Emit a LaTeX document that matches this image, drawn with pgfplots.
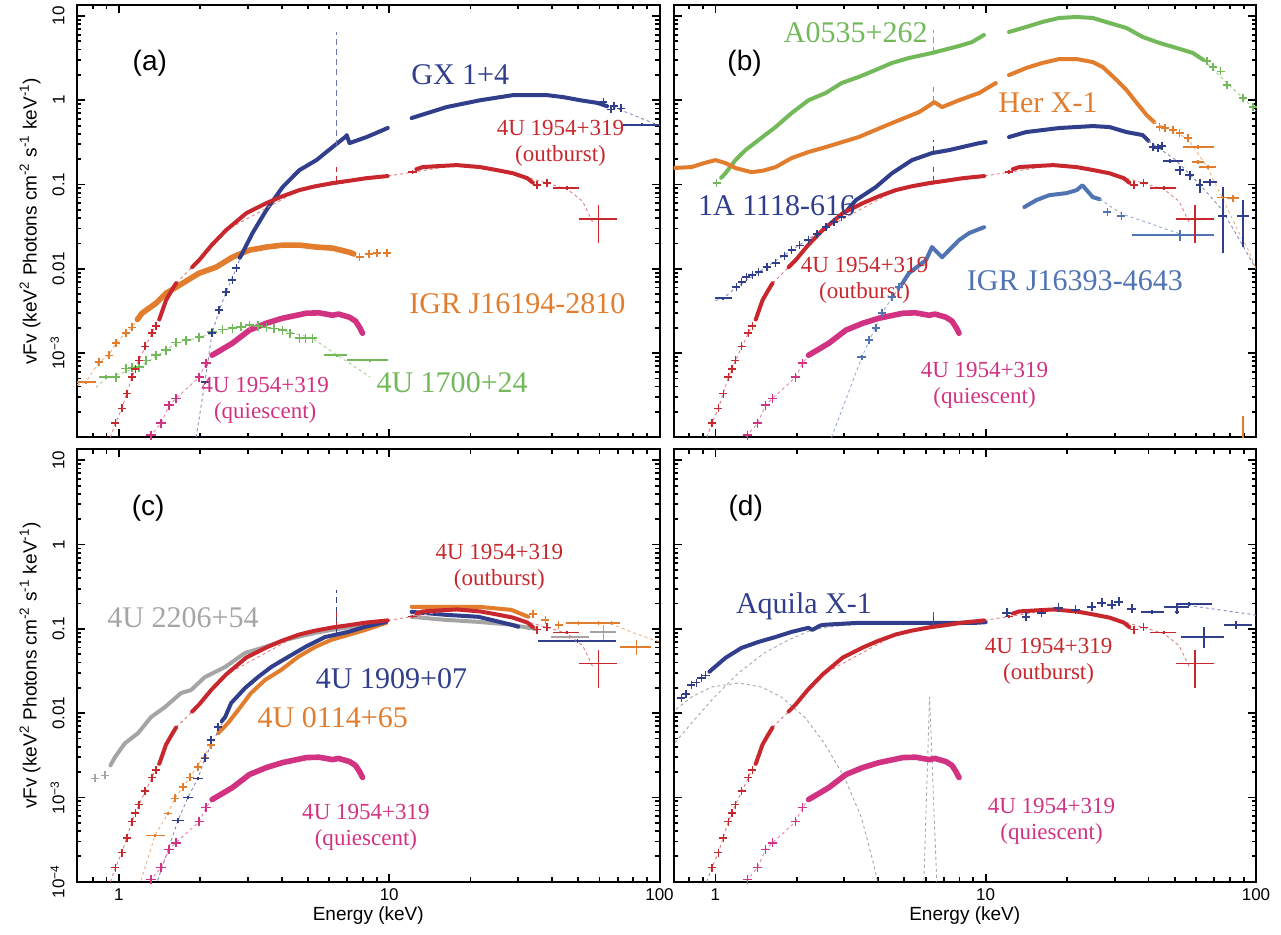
\documentclass[border=0pt]{standalone}
\usepackage{fontspec}
\setmainfont{Liberation Sans}
\newfontfamily\tms{Liberation Serif}
\usepackage{pgfplots}
\pgfplotsset{compat=1.18}
\usepgfplotslibrary{groupplots}
\definecolor{cred}{RGB}{200,40,45}
\definecolor{cnavy}{RGB}{48,62,140}
\definecolor{corange}{RGB}{225,125,45}
\definecolor{cgreen}{RGB}{115,185,90}
\definecolor{cmag}{RGB}{210,50,130}
\definecolor{cblue}{RGB}{80,115,180}
\definecolor{cgray}{RGB}{165,165,165}
\pgfplotsset{
  dense/.style={no marks, line width=2pt, line join=round, line cap=round},
  tdense/.style={no marks, line width=2.8pt, line join=round, line cap=round},
  crs/.style={only marks, mark=+, mark size=2pt, mark options={line width=0.8pt, solid}},
  model/.style={no marks, line width=0.45pt, dash pattern=on 1.5pt off 1.5pt},
  spike/.style={no marks, line width=0.5pt, densely dashed},
  eb/.style={only marks, mark=+, mark size=0.6pt, color=#1, error bars/.cd, x dir=both, y dir=both, x explicit relative, y explicit relative, error mark=none, error bar style={line width=0.85pt, solid}},
}
\tikzset{
  lab/.style={font=\tms\fontsize{15}{18}\selectfont, text=#1, anchor=center},
  slab/.style={font=\tms\fontsize{11.5}{13}\selectfont, text=#1, align=center, anchor=center},
  plab/.style={font=\fontsize{14}{16}\selectfont, anchor=center},
}
\newcommand\UBout{%
\addplot[model, cred!60] coordinates {(0.93,1e-4)(0.97,1.47e-4)(1.026,2.21e-4)(1.117,5.16e-4)(1.186,8.2e-4)(1.325,1.72e-3)(1.494,4.24e-3)(1.627,6.75e-3)(1.866,0.01045)(2.49,0.0287)(4.65,0.0858)(9.87,0.126)(12.2,0.14)(17.8,0.17)(28.7,0.136)(40,0.1)(45.6,0.088)(52,0.063)(57,0.034)};
\addplot[crs, cred] coordinates {(0.97,1.47e-4)(1.026,2.21e-4)(1.07,3.3e-4)(1.117,5.16e-4)(1.15,6.5e-4)(1.186,8.2e-4)(1.25,1.2e-3)(1.325,1.72e-3)(1.37,2.1e-3)};
\addplot[dense, cred] coordinates {(1.41,2.5e-3)(1.494,4.24e-3)(1.56,5.4e-3)(1.627,6.75e-3)};
\addplot[dense, cred] coordinates {(1.866,0.01045)(1.98,0.01265)(2.2,0.019)(2.49,0.0287)(2.96,0.0457)(3.51,0.0601)(4.0,0.072)(4.65,0.0858)(5.3,0.095)(6.17,0.104)(7.0,0.11)(8.25,0.119)(9.87,0.126)};
\addplot[spike, cred] coordinates {(6.4,0.106)(6.4,0.16)};
\addplot[dense, cred] coordinates {(12.6,0.152)(13.3,0.161)(15,0.165)(17.8,0.17)(21.7,0.161)(25.1,0.148)(28.7,0.136)(32.4,0.119)(34,0.105)};
\addplot[crs, cred] coordinates {(35.3,0.098)(38.4,0.104)};
\addplot[eb=cred] coordinates {(12.2,0.14) +- (0.035,0.05) (45.6,0.0906) += (0.107,0.05) -= (0.114,0.05) (59.4,0.0388) += (0.175,0.467) -= (0.15,0.482)};
}
\newcommand\UBqui{%
\addplot[model, cmag!60] coordinates {(1.25,7.5e-5)(1.314,1.06e-4)(1.432,1.47e-4)(1.533,2.4e-4)(1.627,2.9e-4)(1.98,5.16e-4)(2.1,7.57e-4)(2.21,9.42e-4)};
\addplot[crs, cmag, mark size=2.3pt] coordinates {(1.314,1.06e-4)(1.432,1.47e-4)(1.533,2.4e-4)(1.627,2.9e-4)(1.98,5.16e-4)(2.1,7.57e-4)};
\addplot[tdense, cmag] coordinates {(2.21,9.42e-4)(2.4,1.1e-3)(2.63,1.31e-3)(3.04,1.87e-3)(3.51,2.26e-3)(4.03,2.59e-3)(4.94,2.97e-3)(5.5,3.0e-3)(6.17,2.81e-3)(6.5,2.9e-3)(7.13,2.66e-3)(7.5,2.4e-3)(7.77,2.02e-3)(7.97,1.72e-3)};
}
\begin{document}
\begin{tikzpicture}
\begin{groupplot}[
  group style={group size=2 by 2, horizontal sep=7pt, vertical sep=6pt},
  xmode=log, ymode=log, xmin=0.7, xmax=100, ymin=1e-4, ymax=13.5,
  scale only axis, width=291pt, height=216pt,
  axis line style={line width=1pt},
  every tick/.style={black, line width=0.9pt},
  major tick length=4pt, minor tick length=2.2pt,
  tick align=inside,
  xtick={1,10,100},
  minor xtick={0.8,0.9,2,3,4,5,6,7,8,9,20,30,40,50,60,70,80,90},
  ytick={1e-4,1e-3,0.01,0.1,1,10},
  minor ytick={2e-4,3e-4,4e-4,5e-4,6e-4,7e-4,8e-4,9e-4,2e-3,3e-3,4e-3,5e-3,6e-3,7e-3,8e-3,9e-3,0.02,0.03,0.04,0.05,0.06,0.07,0.08,0.09,0.2,0.3,0.4,0.5,0.6,0.7,0.8,0.9,2,3,4,5,6,7,8,9},
  tick label style={font=\fontsize{8.5}{10}\selectfont},
  yticklabel style={rotate=90, anchor=south, inner sep=0pt},
  yticklabel shift=6pt,
  every axis y label/.style={at={(rel axis cs:0,0.5)}, xshift=-23.5pt, rotate=90, anchor=center, font=\fontsize{9.5}{11}\selectfont},
  every axis x label/.style={at={(rel axis cs:0.5,0)}, yshift=-17pt, anchor=center, font=\fontsize{9.5}{11}\selectfont},
]
% ---------------- (a)
\nextgroupplot[xticklabels={}, yticklabels={,10\textsuperscript{\textminus3},0.01,0.1,1,10},
  ylabel={vFv (keV\textsuperscript{2} Photons cm\textsuperscript{-2} s\textsuperscript{-1} keV\textsuperscript{-1})}]
% IGR J16194-2810
\addplot[model, corange!60] coordinates {(0.7,4.2e-4)(0.754,4.5e-4)(0.843,7.8e-4)(0.918,9.4e-4)(0.974,1.31e-3)(1.06,1.72e-3)(1.117,2.02e-3)(1.217,2.97e-3)};
\addplot[eb=corange] coordinates {(0.754,4.5e-4) += (0.09,0.04) -= (0.07,0.04)};
\addplot[crs, corange] coordinates {(0.843,7.8e-4)(0.918,9.4e-4)(0.974,1.31e-3)(1.06,1.72e-3)(1.117,2.02e-3)};
\addplot[tdense, corange] coordinates {(1.17,2.5e-3)(1.217,2.97e-3)(1.371,3.9e-3)(1.494,5.13e-3)(1.627,6.04e-3)(1.98,8.87e-3)(2.29,0.01045)(2.63,0.01374)(3.04,0.01665)(3.51,0.0181)(4.03,0.0191)(4.65,0.0191)(5.38,0.0181)(6.17,0.0176)(7.13,0.0157)(7.4,0.015)};
\addplot[crs, corange] coordinates {(7.77,0.0137)(8.4,0.015)(8.99,0.0153)(9.79,0.0153)};
% 4U 1700+24
\addplot[model, cgreen!70] coordinates {(0.822,3.9e-4)(0.895,5.0e-4)(1.186,6.8e-4)(1.627,1.3e-3)(2.63,1.97e-3)(3.04,2.1e-3)(4.03,1.87e-3)(5.2,1.5e-3)(6.4,9.5e-4)(8.5,5.2e-4)};
\addplot[crs, cgreen, mark size=2.3pt] coordinates {(0.974,5.16e-4)(1.06,6.59e-4)(1.12,6.7e-4)(1.186,6.78e-4)(1.259,8.2e-4)(1.371,9.42e-4)(1.494,1.08e-3)(1.627,1.34e-3)(1.773,1.42e-3)(1.98,1.54e-3)(2.21,1.77e-3)(2.42,1.9e-3)(2.63,1.97e-3)(2.83,2.05e-3)(3.04,2.14e-3)(3.27,2.1e-3)(3.51,2.02e-3)(3.75,1.95e-3)(4.03,1.87e-3)(4.3,1.7e-3)(4.65,1.5e-3)(4.9,1.5e-3)(5.2,1.5e-3)};
\addplot[eb=cgreen] coordinates {(0.895,5.16e-4) +- (0.06,0.05) (6.39,9.4e-4) += (0.095,0.05) -= (0.099,0.05) (8.47,8.2e-4) += (0.165,0.05) -= (0.174,0.05)};
% GX 1+4
\addplot[model, cnavy!60] coordinates {(1.93,1e-4)(2.08,4.5e-4)(2.21,1.72e-3)(2.35,3.22e-3)(2.49,5.27e-3)(2.72,0.0102)(2.86,0.0153)};
\addplot[eb=cnavy] coordinates {(2.08,4.5e-4) +- (0.035,0.05)};
\addplot[crs, cnavy] coordinates {(2.21,1.72e-3)(2.35,3.22e-3)(2.49,5.27e-3)(2.63,7.32e-3)(2.72,0.0102)};
\addplot[dense, cnavy] coordinates {(2.8,0.0135)(2.86,0.0153)(3.12,0.0265)(3.51,0.0497)(4.03,0.0931)(4.65,0.148)(5.38,0.195)(6.17,0.278)(6.9,0.37)(6.96,0.386)(7.13,0.31)(8.25,0.366)(9.87,0.468)};
\addplot[spike, cnavy!70] coordinates {(6.4,0.29)(6.4,6.5)};
\addplot[dense, cnavy] coordinates {(12.1,0.615)(16.3,0.83)(21.7,1.0)(28.7,1.15)(38.4,1.15)(44,1.09)(50.9,1.0)(58.9,0.93)(64,0.85)};
\addplot[crs, cnavy] coordinates {(62,0.95)(66,0.78)(68,0.86)(72,0.8)};
\addplot[model, cnavy!60] coordinates {(67.5,0.83)(100,0.5)};
\addplot[eb=cnavy] coordinates {(86,0.51) += (0.2,0.04) -= (0.15,0.04)};
\UBout
\UBqui
\node[plab] at (rel axis cs:0.125,0.866) {(a)};
\node[lab=cnavy] at (rel axis cs:0.658,0.838) {GX 1+4};
\node[slab=cred] at (rel axis cs:0.830,0.681) {4U 1954+319\\(outburst)};
\node[lab=corange] at (rel axis cs:0.756,0.310) {IGR J16194-2810};
\node[lab=cgreen] at (rel axis cs:0.644,0.127) {4U 1700+24};
\node[slab=cmag] at (rel axis cs:0.323,0.086) {4U 1954+319\\(quiescent)};
% ---------------- (b)
\nextgroupplot[xticklabels={}, yticklabels={}]
% A0535+262
\addplot[crs, cgreen] coordinates {(1.01,0.104)};
\addplot[dense, cgreen] coordinates {(1.05,0.12)(1.089,0.136)(1.186,0.195)(1.292,0.256)(1.444,0.337)(1.67,0.481)(1.914,0.705)(2.21,1.0)(2.56,1.22)(2.93,1.6)(3.39,1.89)(3.92,2.29)(4.5,2.77)(5.2,3.17)(6.33,3.64)(7.97,4.4)(8.9,4.9)(9.85,5.95)};
\addplot[spike, cgreen] coordinates {(6.4,3.6)(6.4,6.8)};
\addplot[dense, cgreen] coordinates {(12.2,6.46)(14.1,7.4)(16.2,8.49)(18.7,9.47)(21.7,9.73)(24.9,9.47)(28.7,8.26)(33.2,7.2)(38.1,5.63)(44,4.78)(50.9,4.17)(58.4,3.64)(64,3.0)};
\addplot[crs, cgreen] coordinates {(66,2.9)(69.3,2.48)(74,2.2)(78,1.51)(89.5,1.07)(97.5,0.83)};
\addplot[model, cgreen!70] coordinates {(64,3.0)(78,1.6)(90,1.05)(100,0.75)};
% Her X-1
\addplot[dense, corange] coordinates {(0.699,0.157)(0.815,0.161)(0.9,0.178)(1.0,0.195)(1.089,0.18)(1.186,0.157)(1.36,0.14)(1.5,0.146)(1.67,0.161)(1.914,0.206)(2.21,0.243)(2.56,0.278)(3.39,0.366)(4.5,0.536)(5.67,0.724)(6.2,0.87)(6.45,0.95)(6.9,0.83)(7.97,1.0)(9.46,1.22)(10.9,1.6)};
\addplot[spike, corange] coordinates {(6.4,0.95)(6.4,1.43)};
\addplot[dense, corange] coordinates {(12.2,1.99)(14.1,2.41)(16.2,2.77)(18.7,3.08)(21.7,3.08)(24.9,2.84)(27.1,2.48)(30.5,1.74)(33.2,1.32)(36.2,0.93)(39.4,0.667)(42,0.55)};
\addplot[crs, corange] coordinates {(44,0.481)(46,0.47)(49.2,0.443)(52.2,0.408)(56,0.356)};
\addplot[model, corange!60] coordinates {(42,0.55)(56,0.35)(66,0.16)(75,0.07)(85,0.03)(93,0.0175)(100,0.01)};
\addplot[eb=corange] coordinates {(61,0.278) += (0.15,0.05) -= (0.12,0.05) (61,0.185) +- (0.05,0.06) (66.4,0.161) +- (0.07,0.06) (75.4,0.07) += (0.05,0.25) -= (0.05,0.22) (82.2,0.069) +- (0.05,0.1) (89.5,1.2e-4) +- (0.0,0.5)};
% 1A 1118-616
\addplot[model, cnavy!60] coordinates {(1.0,4.2e-3)(1.07,4.48e-3)(1.196,6.04e-3)(1.444,9.12e-3)(1.914,0.0166)(2.93,0.041)(3.31,0.0653)};
\addplot[eb=cnavy] coordinates {(1.07,4.48e-3) += (0.075,0.04) -= (0.065,0.04)};
\addplot[crs, cnavy] coordinates {(1.196,6.04e-3)(1.25,7e-3)(1.303,7.94e-3)(1.37,8.5e-3)(1.444,9.12e-3)(1.55,1.05e-2)(1.67,0.0117)(1.8,0.0143)(1.914,0.0166)(2.05,0.019)(2.21,0.0219)(2.38,0.026)(2.56,0.0312)(2.74,0.036)(2.93,0.041)};
\addplot[dense, cnavy] coordinates {(3.05,0.048)(3.31,0.0653)(3.92,0.0931)(4.5,0.136)(5.34,0.195)(6.33,0.236)(7.32,0.256)(9.46,0.31)(10,0.319)};
\addplot[spike, cnavy] coordinates {(6.4,0.24)(6.4,0.34)};
\addplot[dense, cnavy] coordinates {(12.2,0.366)(14.1,0.419)(18.7,0.468)(24.9,0.494)(28.7,0.481)(33.2,0.419)(38.1,0.386)(40,0.33)};
\addplot[crs, cnavy] coordinates {(41.5,0.278)(43.5,0.27)(45,0.285)};
\addplot[model, cnavy!60] coordinates {(40,0.33)(50,0.2)(62,0.1)(75,0.05)(85,0.025)(100,0.01)};
\addplot[eb=cnavy] coordinates {(48,0.19) += (0.117,0.05) -= (0.058,0.05) (52.2,0.148) +- (0.04,0.12) (56.9,0.129) +- (0.04,0.12) (62,0.098) +- (0.03,0.2) (67.5,0.107) +- (0.06,0.1) (75.4,0.042) += (0.04,1.2) -= (0.04,0.63) (89.5,0.042) +- (0.05,0.57)};
% IGR J16393-4643
\addplot[model, cblue!60] coordinates {(2.69,1e-4)(3.48,8.9e-4)(4.13,2.97e-3)(4.78,6.04e-3)};
\addplot[eb=cblue] coordinates {(3.48,8.9e-4) +- (0.04,0.06)};
\addplot[crs, cblue] coordinates {(3.7,1.42e-3)(3.92,1.97e-3)(4.13,2.97e-3)(4.5,4.6e-3)(4.78,6.04e-3)};
\addplot[dense, cblue] coordinates {(4.9,6.6e-3)(5.2,8.87e-3)(6.01,0.01265)(6.33,0.0181)(6.9,0.0137)(7.32,0.0166)(7.97,0.0219)(8.68,0.0265)(9.87,0.0312)};
\addplot[dense, cblue] coordinates {(13.9,0.054)(15.4,0.0653)(17.2,0.0748)(19.9,0.079)(21.7,0.0858)(22.8,0.098)(24.9,0.0708)(26.4,0.067)};
\addplot[crs, cblue] coordinates {(28.2,0.047)(31.8,0.042)};
\addplot[model, cblue!60] coordinates {(26.4,0.067)(31.8,0.045)(40,0.035)(52.2,0.026)};
\addplot[eb=cblue] coordinates {(52.2,0.0251) += (0.345,0.15) -= (0.335,0.15)};
\UBout
\UBqui
\node[plab] at (rel axis cs:0.122,0.866) {(b)};
\node[lab=cgreen] at (rel axis cs:0.313,0.935) {A0535+262};
\node[lab=corange] at (rel axis cs:0.643,0.773) {Her X-1};
\node[lab=cnavy] at (rel axis cs:0.177,0.537) {1A 1118-616};
\node[slab=cred] at (rel axis cs:0.328,0.363) {4U 1954+319\\(outburst)};
\node[lab=cblue] at (rel axis cs:0.689,0.363) {IGR J16393-4643};
\node[slab=cmag] at (rel axis cs:0.534,0.120) {4U 1954+319\\(quiescent)};
% ---------------- (c)
\nextgroupplot[xticklabels={1,10,100}, yticklabels={10\textsuperscript{\textminus4},10\textsuperscript{\textminus3},0.01,0.1,1,10},
  ylabel={vFv (keV\textsuperscript{2} Photons cm\textsuperscript{-2} s\textsuperscript{-1} keV\textsuperscript{-1})}, xlabel={Energy (keV)}]
% 4U 2206+54
\addplot[crs, cgray] coordinates {(0.815,1.68e-3)(0.887,1.83e-3)};
\addplot[dense, cgray] coordinates {(0.93,2.4e-3)(0.966,2.99e-3)(1.052,4.39e-3)(1.176,5.78e-3)(1.314,8.96e-3)(1.48,0.0118)(1.697,0.0173)(1.848,0.0188)(2.08,0.0268)(2.47,0.0353)(2.93,0.0518)(3.47,0.061)(4.12,0.074)(5.32,0.0896)(6.1,0.097)(8.15,0.112)(9.75,0.118)};
\addplot[dense, cgray] coordinates {(12.1,0.139)(16.1,0.128)(21.4,0.121)(28.3,0.112)(32.7,0.103)(35,0.1)};
\addplot[eb=cgray] coordinates {(46.4,0.08) += (0.177,0.05) -= (0.142,0.05) (62,0.092) += (0.116,0.22) -= (0.106,0.2)};
% 4U 0114+65
\addplot[model, corange!60] coordinates {(1.206,1.03e-4)(1.36,3.53e-4)(1.518,6.45e-4)(1.61,9.73e-4)(1.83,1.73e-3)(2.19,4.16e-3)};
\addplot[eb=corange] coordinates {(1.36,3.53e-4) += (0.088,0.05) -= (0.074,0.05) (1.518,6.45e-4) +- (0.035,0.05)};
\addplot[crs, corange] coordinates {(1.61,9.73e-4)(1.726,1.32e-3)(1.83,1.73e-3)(1.96,2.28e-3)(2.08,2.99e-3)(2.19,4.16e-3)};
\addplot[dense, corange] coordinates {(2.33,5.78e-3)(2.53,7.6e-3)(2.76,0.01086)(3.08,0.0173)(3.47,0.0247)(3.98,0.0325)(4.6,0.0465)(5.32,0.061)(6.1,0.074)(8.15,0.097)(9.75,0.118)};
\addplot[dense, corange] coordinates {(12.1,0.183)(16.1,0.183)(21.4,0.183)(28.3,0.168)(32.7,0.139)};
\addplot[crs, corange] coordinates {(34,0.15)(37.8,0.128)(42.3,0.112)};
\addplot[model, corange!60] coordinates {(66,0.115)(80,0.09)(100,0.07)};
\addplot[eb=corange] coordinates {(50.1,0.118) +- (0.1,0.06) (59.4,0.118) +- (0.1,0.06) (66.4,0.118) +- (0.08,0.06) (82.2,0.061) += (0.131,0.2) -= (0.129,0.2)};
% 4U 1909+07
\addplot[model, cnavy!60] coordinates {(1.39,1.03e-4)(1.654,5.32e-4)(1.8,1e-3)(1.96,1.68e-3)(2.08,2.91e-3)(2.47,8.96e-3)};
\addplot[eb=cnavy] coordinates {(1.654,5.32e-4) +- (0.05,0.06) (1.8,1e-3) +- (0.04,0.05) (1.96,1.68e-3) +- (0.04,0.05)};
\addplot[crs, cnavy] coordinates {(2.08,2.91e-3)(2.19,4.77e-3)(2.33,6.81e-3)};
\addplot[dense, cnavy] coordinates {(2.4,8e-3)(2.47,8.96e-3)(2.6,0.01315)(2.93,0.0199)(3.27,0.0268)(3.66,0.0353)(4.23,0.0465)(4.89,0.061)(5.79,0.08)(7.05,0.092)(8.15,0.106)(9.75,0.121)};
\addplot[spike, cnavy] coordinates {(6.4,0.09)(6.4,0.29)};
\addplot[dense, cnavy] coordinates {(12.1,0.159)(16.1,0.147)(21.4,0.139)(28.3,0.112)(30,0.106)};
\addplot[eb=cnavy] coordinates {(49.7,0.072) += (0.394,0.06) -= (0.284,0.06)};
\UBout
\UBqui
\node[plab] at (rel axis cs:0.122,0.863) {(c)};
\node[lab=cgray] at (rel axis cs:0.182,0.611) {4U 2206+54};
\node[slab=cred] at (rel axis cs:0.725,0.727) {4U 1954+319\\(outburst)};
\node[lab=cnavy] at (rel axis cs:0.540,0.470) {4U 1909+07};
\node[lab=corange] at (rel axis cs:0.439,0.380) {4U 0114+65};
\node[slab=cmag] at (rel axis cs:0.496,0.125) {4U 1954+319\\(quiescent)};
% ---------------- (d)
\nextgroupplot[xticklabels={1,10,100}, yticklabels={}, xlabel={Energy (keV)}]
\addplot[model, black!35] coordinates {(0.687,0.01)(0.815,0.0155)(0.966,0.0204)(1.217,0.0228)(1.48,0.0204)(1.756,0.0155)(2.14,8.96e-3)(2.53,4.39e-3)(3.0,1.73e-3)(3.47,5.78e-4)(3.88,1.47e-4)(3.95,1.12e-4)(4.0,9e-5)};
\addplot[model, black!35] coordinates {(0.687,3.94e-3)(0.815,7.6e-3)(0.9915,0.0155)(1.217,0.0299)(1.518,0.0518)(1.864,0.074)(2.27,0.097)(2.8,0.108)(3.4,0.113)};
\addplot[model, black!35] coordinates {(5.9,9e-5)(6.2,0.0155)(6.6,9e-5)};
% Aquila X-1
\addplot[crs, cnavy] coordinates {(0.699,0.01315)(0.748,0.0151)(0.78,0.017)(0.815,0.0216)(0.85,0.023)(0.887,0.0261)(0.92,0.028)};
\addplot[dense, cnavy] coordinates {(0.95,0.031)(0.966,0.0325)(1.089,0.0452)(1.248,0.0594)(1.443,0.07)(1.668,0.08)(1.912,0.092)(2.21,0.103)(2.28,0.097)(2.45,0.11)(2.55,0.112)(3.39,0.118)(4.49,0.118)(6.0,0.118)(6.87,0.118)(9.18,0.118)(10,0.12)};
\addplot[spike, cnavy] coordinates {(6.4,0.118)(6.4,0.159)};
\addplot[model, cnavy!60] coordinates {(56,0.19)(97,0.148)(100,0.145)};
\UBout
\UBqui
\addplot[crs, cnavy, mark size=2.2pt] coordinates {(11.96,0.155)(14.1,0.139)(16.1,0.155)(18.6,0.178)(21.5,0.168)(24.7,0.183)(26.9,0.204)(29.3,0.193)(31.1,0.21)(34.7,0.173)};
\addplot[eb=cnavy] coordinates {(41.2,0.159) += (0.107,0.05) -= (0.087,0.05) (51,0.183) += (0.11,0.1) -= (0.106,0.1) (56.5,0.199) += (0.214,0.06) -= (0.097,0.06) (51,0.16) +- (0.02,0.05) (64.1,0.08) += (0.189,0.325) -= (0.178,0.254) (84.3,0.112) += (0.147,0.12) -= (0.096,0.1)};
\node[plab] at (rel axis cs:0.124,0.863) {(d)};
\node[lab=cnavy] at (rel axis cs:0.224,0.638) {Aquila X-1};
\node[slab=cred] at (rel axis cs:0.644,0.510) {4U 1954+319\\(outburst)};
\node[slab=cmag] at (rel axis cs:0.649,0.139) {4U 1954+319\\(quiescent)};
\end{groupplot}
\pgfresetboundingbox
\path[use as bounding box] ([shift={(-38.5pt,2.5pt)}]group c1r1.north west) rectangle ([shift={(12.5pt,-26.5pt)}]group c2r2.south east);
\end{tikzpicture}
\end{document}
